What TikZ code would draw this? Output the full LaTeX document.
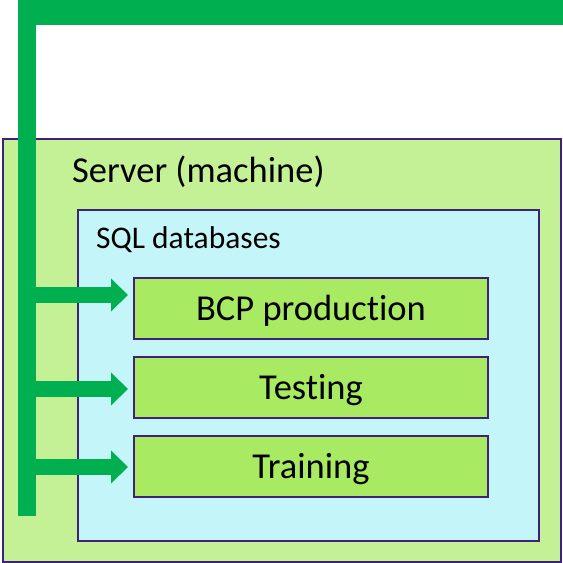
\documentclass[tikz,border=0pt]{standalone}
\usepackage{fontspec}
\setmainfont{Carlito}[Ligatures=NoCommon]
\usetikzlibrary{arrows.meta, positioning, calc}
\definecolor{pipe}{RGB}{0,176,80}
\definecolor{edge}{RGB}{64,32,120}
\definecolor{serverfill}{RGB}{197,241,150}
\definecolor{sqlfill}{RGB}{196,245,248}
\definecolor{dbfill}{RGB}{168,234,98}

\begin{document}
\begin{tikzpicture}[x=1pt, y=-1pt,
    box/.style={rectangle, draw=edge, line width=2pt, inner sep=0pt, anchor=north west},
    dbbox/.style={box, fill=dbfill, minimum width=354pt, minimum height=61pt,
        text height=24pt, text depth=0pt, font=\fontsize{36.5}{40}\selectfont},
    title/.style={anchor=base west, inner sep=0pt},
    feed/.style={draw=pipe, line width=16pt, shorten >=5pt,
        -{Triangle[length=17pt, width=32pt]}}]
    \useasboundingbox (0,0) rectangle (563,563);

    % Containers
    \node[box, fill=serverfill, minimum width=558pt, minimum height=423pt] (server) at (2,138) {};
    \node[title, font=\fontsize{36.5}{40}\selectfont] (servername) at (72,182) {Server (machine)};
    \node[box, fill=sqlfill, minimum width=461pt, minimum height=331pt] (sql) at (77,209) {};
    \node[title, font=\fontsize{31.5}{36}\selectfont] (sqlname) at (96,248) {SQL databases};

    % Databases
    \node[dbbox] (bcp) at (133,277) {BCP production};
    \node[dbbox] (testing) at (133,356) {Testing};
    \node[dbbox] (training) at (133,435) {Training};

    % Pipe
    \coordinate (foot) at (27,516);
    \coordinate (head) at (27,0);
    \coordinate (bar west) at (18,12.5);
    \coordinate (bar east) at (563,12.5);
    \draw[pipe, line width=18pt] (foot) -- (head);
    \draw[pipe, line width=25pt] (bar west) -- (bar east);

    % Feeds
    \coordinate (tap1) at (27,295);
    \coordinate (tap2) at (27,389);
    \coordinate (tap3) at (27,467);
    \draw[feed] (tap1) -- (tap1 -| bcp.west);
    \draw[feed] (tap2) -- (tap2 -| testing.west);
    \draw[feed] (tap3) -- (tap3 -| training.west);
\end{tikzpicture}
\end{document}
